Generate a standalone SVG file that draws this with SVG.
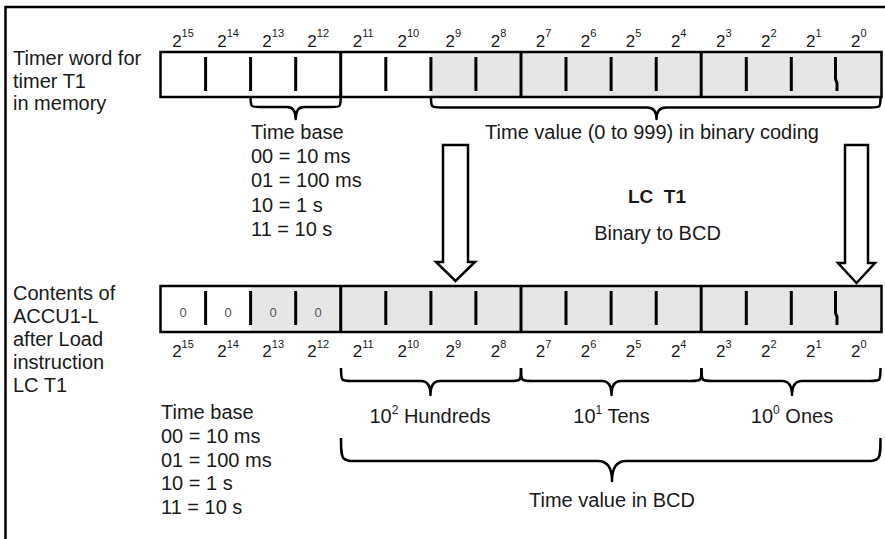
<svg xmlns="http://www.w3.org/2000/svg" width="885" height="539" viewBox="0 0 885 539">
<style>
text{font-family:"Liberation Sans",Arial,sans-serif;fill:#1a1a1a}
.t{font-size:20px}
.bit{font-size:17px;text-anchor:middle}
.sup{font-size:11px}
.mid{text-anchor:middle}
.b{font-weight:bold;font-size:19px;white-space:pre}
.zero{font-size:13px;fill:#555;text-anchor:middle}
.reg{stroke:#000;stroke-width:2.5}
.tick{stroke:#000;stroke-width:3;fill:none}
.brace{stroke:#000;stroke-width:2.5;fill:none;stroke-linejoin:round}
.arrow{stroke:#000;stroke-width:2.5;fill:#fff;stroke-linejoin:miter}
.shade{fill:#e6e6e6}
</style>

<path d="M5.5,545 V7 H890" fill="none" stroke="#000" stroke-width="2.5"/>

<g id="label-timer-word">
<text class="t" x="13" y="65">Timer word for</text>
<text class="t" x="13" y="87.5">timer T1</text>
<text class="t" x="13" y="110">in memory</text>
</g>

<g id="top-register">
<rect x="160.5" y="52" width="721" height="45" fill="#fff"/>
<rect class="shade" x="430.9" y="52" width="450.6" height="45"/>
<rect class="reg" x="160.5" y="52" width="721" height="45" fill="none"/>
<path class="tick" d="M205.6,57V91 M250.6,57V91 M295.7,57V91 M385.8,57V91 M430.9,57V91 M475.9,57V91 M566,57V91 M611.1,57V91 M656.2,57V91 M746.3,57V91 M791.3,57V91 M835.5,57V79 L837,83 V91"/>
<path class="tick" d="M340.7,52V97 M521,52V97 M701.2,52V97"/>
<text class="bit" x="183" y="46.5">2<tspan class="sup" dy="-9.5">15</tspan></text>
<text class="bit" x="228.1" y="46.5">2<tspan class="sup" dy="-9.5">14</tspan></text>
<text class="bit" x="273.2" y="46.5">2<tspan class="sup" dy="-9.5">13</tspan></text>
<text class="bit" x="318.2" y="46.5">2<tspan class="sup" dy="-9.5">12</tspan></text>
<text class="bit" x="363.3" y="46.5">2<tspan class="sup" dy="-9.5">11</tspan></text>
<text class="bit" x="408.3" y="46.5">2<tspan class="sup" dy="-9.5">10</tspan></text>
<text class="bit" x="453.4" y="46.5">2<tspan class="sup" dy="-9.5">9</tspan></text>
<text class="bit" x="498.5" y="46.5">2<tspan class="sup" dy="-9.5">8</tspan></text>
<text class="bit" x="543.5" y="46.5">2<tspan class="sup" dy="-9.5">7</tspan></text>
<text class="bit" x="588.6" y="46.5">2<tspan class="sup" dy="-9.5">6</tspan></text>
<text class="bit" x="633.6" y="46.5">2<tspan class="sup" dy="-9.5">5</tspan></text>
<text class="bit" x="678.7" y="46.5">2<tspan class="sup" dy="-9.5">4</tspan></text>
<text class="bit" x="723.8" y="46.5">2<tspan class="sup" dy="-9.5">3</tspan></text>
<text class="bit" x="768.8" y="46.5">2<tspan class="sup" dy="-9.5">2</tspan></text>
<text class="bit" x="813.9" y="46.5">2<tspan class="sup" dy="-9.5">1</tspan></text>
<text class="bit" x="858.9" y="46.5">2<tspan class="sup" dy="-9.5">0</tspan></text>
</g>

<g id="top-timebase">
<text class="t" x="251" y="138.5">Time base</text>
<text class="t" x="251" y="163">00 = 10 ms</text>
<text class="t" x="251" y="187">01 = 100 ms</text>
<text class="t" x="251" y="211.5">10 = 1 s</text>
<text class="t" x="251" y="235.5">11 = 10 s</text>
</g>

<g id="top-timevalue">
<text class="t mid" x="652" y="138.5">Time value (0 to 999) in binary coding</text>
</g>

<g id="instruction">
<text class="b mid" x="657" y="203">LC  T1</text>
<text class="t mid" x="657.5" y="240">Binary to BCD</text>
</g>

<g id="label-accu">
<text class="t" x="13" y="300">Contents of</text>
<text class="t" x="13" y="323">ACCU1-L</text>
<text class="t" x="13" y="346">after Load</text>
<text class="t" x="13" y="369">instruction</text>
<text class="t" x="13" y="392">LC T1</text>
</g>

<g id="bottom-register">
<rect x="160.5" y="286" width="721" height="46" fill="#fff"/>
<rect class="shade" x="250.6" y="286" width="630.9" height="46"/>
<rect class="reg" x="160.5" y="286" width="721" height="46" fill="none"/>
<path class="tick" d="M205.6,291V325 M250.6,291V325 M295.7,291V325 M385.8,291V325 M430.9,291V325 M475.9,291V325 M566,291V325 M611.1,291V325 M656.2,291V325 M746.3,291V325 M791.3,291V325 M835.5,291V313 L837,317 V325"/>
<path class="tick" d="M340.7,286V332 M521,286V332 M701.2,286V332"/>
<text class="zero" x="183" y="317">0</text>
<text class="zero" x="228.1" y="317">0</text>
<text class="zero" x="273.2" y="317">0</text>
<text class="zero" x="318.2" y="317">0</text>
<text class="bit" x="183" y="357">2<tspan class="sup" dy="-9.5">15</tspan></text>
<text class="bit" x="228.1" y="357">2<tspan class="sup" dy="-9.5">14</tspan></text>
<text class="bit" x="273.2" y="357">2<tspan class="sup" dy="-9.5">13</tspan></text>
<text class="bit" x="318.2" y="357">2<tspan class="sup" dy="-9.5">12</tspan></text>
<text class="bit" x="363.3" y="357">2<tspan class="sup" dy="-9.5">11</tspan></text>
<text class="bit" x="408.3" y="357">2<tspan class="sup" dy="-9.5">10</tspan></text>
<text class="bit" x="453.4" y="357">2<tspan class="sup" dy="-9.5">9</tspan></text>
<text class="bit" x="498.5" y="357">2<tspan class="sup" dy="-9.5">8</tspan></text>
<text class="bit" x="543.5" y="357">2<tspan class="sup" dy="-9.5">7</tspan></text>
<text class="bit" x="588.6" y="357">2<tspan class="sup" dy="-9.5">6</tspan></text>
<text class="bit" x="633.6" y="357">2<tspan class="sup" dy="-9.5">5</tspan></text>
<text class="bit" x="678.7" y="357">2<tspan class="sup" dy="-9.5">4</tspan></text>
<text class="bit" x="723.8" y="357">2<tspan class="sup" dy="-9.5">3</tspan></text>
<text class="bit" x="768.8" y="357">2<tspan class="sup" dy="-9.5">2</tspan></text>
<text class="bit" x="813.9" y="357">2<tspan class="sup" dy="-9.5">1</tspan></text>
<text class="bit" x="858.9" y="357">2<tspan class="sup" dy="-9.5">0</tspan></text>
</g>

<g id="bcd-digits">
<text class="t mid" x="430" y="423">10<tspan class="sup" dy="-9" style="font-size:12px">2</tspan><tspan dy="9"> Hundreds</tspan></text>
<text class="t mid" x="611.5" y="423">10<tspan class="sup" dy="-9" style="font-size:12px">1</tspan><tspan dy="9"> Tens</tspan></text>
<text class="t mid" x="792" y="423">10<tspan class="sup" dy="-9" style="font-size:12px">0</tspan><tspan dy="9"> Ones</tspan></text>
</g>

<g id="bottom-timebase">
<text class="t" x="161" y="419">Time base</text>
<text class="t" x="161" y="442.5">00 = 10 ms</text>
<text class="t" x="161" y="466.5">01 = 100 ms</text>
<text class="t" x="161" y="490">10 = 1 s</text>
<text class="t" x="161" y="514">11 = 10 s</text>
</g>

<g id="bcd-value">
<text class="t mid" x="612" y="507">Time value in BCD</text>
</g>

<g id="connectors">
<path class="brace" d="M250.6,97 C250.6,107 250.6,107 260,107 L287,107 Q295.7,107 295.7,119 Q295.7,107 304,107 L331,107 C340.7,107 340.7,107 340.7,97"/>
<path class="brace" d="M431,97 C431,107.5 431,107.5 442,107.5 L647,107.5 Q656.5,107.5 656.5,119 Q656.5,107.5 666,107.5 L870,107.5 C880.5,107.5 880.5,107.5 880.5,97"/>
<path class="brace" d="M341,368 C341,381 341,381 352,381 L421,381 Q430.5,381 430.5,395 Q430.5,381 440,381 L510,381 C521,381 521,381 521,368"/>
<path class="brace" d="M521,368 C521,381 521,381 532,381 L602,381 Q611.5,381 611.5,395 Q611.5,381 621,381 L691,381 C701.5,381 701.5,381 701.5,368"/>
<path class="brace" d="M701.5,368 C701.5,381 701.5,381 712,381 L782,381 Q792,381 792,395 Q792,381 802,381 L870,381 C880.5,381 880.5,381 880.5,368"/>
<path class="brace" d="M341,438 C341,461 341,461 360,461 L598,461 Q612,461 612,481 Q612,461 626,461 L862,461 C880.5,461 880.5,461 880.5,438"/>
<path class="arrow" d="M443,145 H468 V262 H475 L455.5,281 L436,262 H443 Z"/>
<path class="arrow" d="M845,145 H868 V263 H875 L856.5,283 L838,263 H845 Z"/>
</g>
</svg>
